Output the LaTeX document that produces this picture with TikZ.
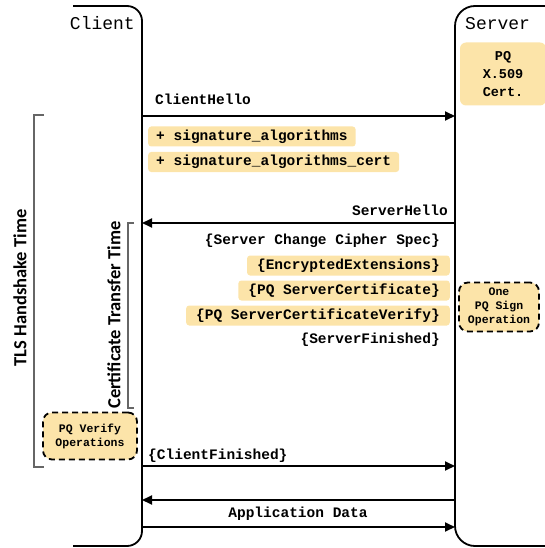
\documentclass[tikz,border=0pt]{standalone}
\usepackage{fontspec}
\setmonofont{Liberation Mono}
\setsansfont{Carlito}
\usetikzlibrary{arrows.meta}
\definecolor{hilite}{HTML}{FCE4A9}
\definecolor{brk}{HTML}{666666}

\tikzset{
  msg/.style={line width=1.8pt,-{Triangle[length=10pt,width=9pt]}},
  lbl/.style={font=\fontsize{14.5}{16}\ttfamily\bfseries,inner sep=0pt},
  plainmsg/.style={lbl,inner xsep=10pt,minimum height=20pt},
  hl/.style={plainmsg,fill=hilite,rounded corners=3pt},
  opbox/.style={draw,dash pattern=on 6pt off 4pt,line width=1.8pt,fill=hilite,
    rounded corners=9pt,align=center,inner sep=0pt,
    font=\fontsize{11.5}{14}\ttfamily\bfseries},
  bracket/.style={brk,line width=1.3pt},
  timelbl/.style={rotate=90,font=\fontsize{18.5}{20}\sffamily\bfseries},
}

\begin{document}
\begin{tikzpicture}[x=1pt,y=-1pt]
\useasboundingbox (0,0) rectangle (545,548);
% lifelines
\draw[line width=1.8pt,rounded corners=15pt] (73,6) -- (142,6) -- (142,546) -- (73,546);
\draw[line width=1.8pt,rounded corners=20pt] (550,6) -- (455,6) -- (455,546) -- (550,546);
\node[font=\fontsize{18}{20}\ttfamily,inner sep=0pt,anchor=base east] (client) at (135,30) {Client};
\node[font=\fontsize{18}{20}\ttfamily,inner sep=0pt,anchor=base west] (server) at (465,30) {Server};
\node[fill=hilite,rounded corners=6pt,minimum width=86pt,minimum height=63pt,align=center,
  font=\fontsize{13.5}{18}\ttfamily\bfseries] (cert) at (503,74) {PQ\\X.509\\Cert.};

% ClientHello
\coordinate (c1) at (142,116);
\coordinate (s1) at (455,116);
\draw[msg] (c1) -- (s1);
\node[lbl,anchor=base west] (hello) at (155,105) {ClientHello};
\node[hl,inner xsep=8pt,anchor=west] (sigalg) at (148,136.5) {+ signature\_algorithms};
\node[hl,inner xsep=8pt,anchor=west] (sigcert) at (148,162) {+ signature\_algorithms\_cert};

% ServerHello and the server flight
\coordinate (c2) at (142,223);
\coordinate (s2) at (455,223);
\draw[msg] (s2) -- (c2);
\node[lbl,anchor=base east] (shello) at (448,215) {ServerHello};
\node[plainmsg,anchor=east] (ccs) at (450,241) {\{Server Change Cipher Spec\}};
\node[hl,anchor=east] (ext) at (450,265.5) {\{EncryptedExtensions\}};
\node[hl,anchor=east] (scert) at (450,290.5) {\{PQ ServerCertificate\}};
\node[hl,anchor=east] (sverify) at (450,315.5) {\{PQ ServerCertificateVerify\}};
\node[plainmsg,anchor=east] (sfin) at (450,340) {\{ServerFinished\}};
\node[opbox,minimum width=80pt,minimum height=49pt] (signop) at (499,307) {One\\PQ Sign\\Operation};

% time brackets
\coordinate (t1) at (44,115);
\coordinate (t2) at (34,115);
\coordinate (t3) at (34,467);
\coordinate (t4) at (44,467);
\draw[bracket] (t1) -- (t2) -- (t3) -- (t4);
\node[timelbl] (tls) at (20,288) {TLS Handshake Time};
\coordinate (b1) at (134,223);
\coordinate (b2) at (128,223);
\coordinate (b3) at (128,408);
\coordinate (b4) at (134,408);
\draw[bracket] (b1) -- (b2) -- (b3) -- (b4);
\node[timelbl] (ctt) at (114,315) {Certificate Transfer Time};
\node[opbox,minimum width=94pt,minimum height=47pt] (verify) at (90,436) {PQ Verify\\Operations};

% ClientFinished and application data
\coordinate (c3) at (142,466);
\coordinate (s3) at (455,466);
\draw[msg] (c3) -- (s3);
\node[lbl,anchor=base west] (cfin) at (148,459) {\{ClientFinished\}};
\coordinate (c4) at (142,500);
\coordinate (s4) at (455,500);
\draw[msg] (s4) -- (c4);
\coordinate (c5) at (142,527);
\coordinate (s5) at (455,527);
\draw[msg] (c5) -- (s5);
\node[lbl,anchor=base] (appdata) at (298,517) {Application Data};
\end{tikzpicture}
\end{document}
